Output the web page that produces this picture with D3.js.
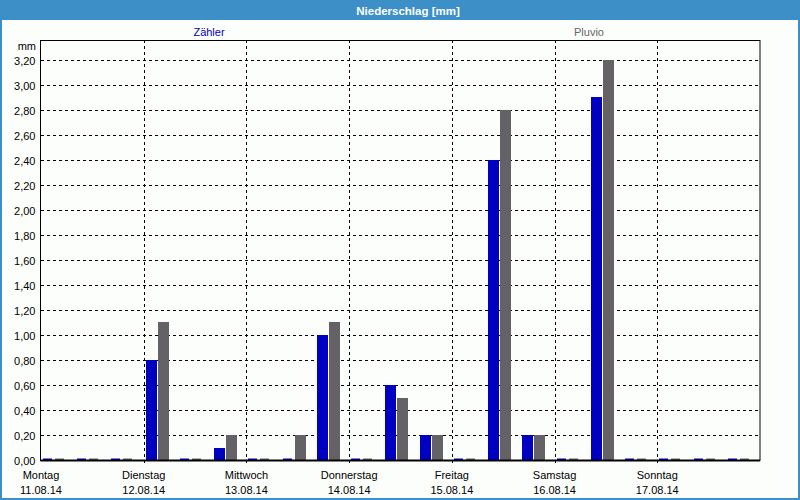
<!DOCTYPE html>
<html>
<head>
<meta charset="utf-8">
<script src="https://cdn.jsdelivr.net/npm/d3@7"></script>
<style>
  html, body { margin: 0; padding: 0; background: #fcfefc; }
  svg { display: block; }
  text { font-family: "Liberation Sans", Arial, sans-serif; }
</style>
</head>
<body>
<svg id="chart" width="800" height="500"></svg>
<script>
// ---- data ----
const title = "Niederschlag [mm]";
const seriesNames = ["Zähler", "Pluvio"];
const dayNames = ["Montag", "Dienstag", "Mittwoch", "Donnerstag", "Freitag", "Samstag", "Sonntag"];
const dayDates = ["11.08.14", "12.08.14", "13.08.14", "14.08.14", "15.08.14", "16.08.14", "17.08.14"];
// three 8-hour intervals per day, 21 intervals total
const zaehler = [0, 0, 0,  0.8, 0, 0.1,  0, 0, 1.0,  0, 0.6, 0.2,  0, 2.4, 0.2,  0, 2.9, 0,  0, 0, 0];
const pluvio  = [0, 0, 0,  1.1, 0, 0.2,  0, 0.2, 1.1,  0, 0.5, 0.2,  0, 2.8, 0.2,  0, 3.2, 0,  0, 0, 0];
const yTicks = [0, 0.2, 0.4, 0.6, 0.8, 1.0, 1.2, 1.4, 1.6, 1.8, 2.0, 2.2, 2.4, 2.6, 2.8, 3.0, 3.2];
const yMax = 3.36;
const yUnit = "mm";

// ---- layout ----
const W = 800, H = 500;
const plotL = 41, plotR = 760, plotT = 40, plotB = 460;
const colors = ["#0000c0", "#646266"];
const borderBlue = "#3c8fc7";

const svg = d3.select("#chart");

// background + border
svg.append("rect").attr("x", 0).attr("y", 0).attr("width", W).attr("height", H).attr("fill", "#fcfefc");
svg.append("rect").attr("x", 1).attr("y", 1).attr("width", W - 2).attr("height", H - 2)
  .attr("fill", "none").attr("stroke", borderBlue).attr("stroke-width", 2);
svg.append("rect").attr("x", 0).attr("y", 0).attr("width", W).attr("height", 20).attr("fill", borderBlue);
svg.append("text").attr("x", 408).attr("y", 14.5).attr("text-anchor", "middle")
  .attr("fill", "#fff").attr("font-weight", "bold").attr("font-size", "11.5px").text(title);

// legend
svg.append("text").attr("x", 209).attr("y", 36).attr("text-anchor", "middle")
  .attr("fill", colors[0]).attr("font-size", "11px").text(seriesNames[0]);
svg.append("text").attr("x", 589).attr("y", 36).attr("text-anchor", "middle")
  .attr("fill", "#666666").attr("font-size", "11px").text(seriesNames[1]);

// scales
const slots = d3.range(zaehler.length);
const x = d3.scaleBand().domain(slots).range([plotL, plotR]).paddingInner(0).paddingOuter(0);
const xDay = d3.scaleLinear().domain([0, dayNames.length]).range([plotL, plotR]);
const y = d3.scaleLinear().domain([0, yMax]).range([plotB, plotT]);

// grid
const g = svg.append("g");
g.selectAll("line.hg").data(yTicks.filter(d => d > 0)).join("line")
  .attr("x1", plotL).attr("x2", plotR)
  .attr("y1", d => Math.round(y(d)) + 0.5).attr("y2", d => Math.round(y(d)) + 0.5)
  .attr("stroke", "#000").attr("stroke-dasharray", "3,3");
g.selectAll("line.vg").data(d3.range(1, dayNames.length)).join("line")
  .attr("x1", d => Math.round(xDay(d)) + 0.5).attr("x2", d => Math.round(xDay(d)) + 0.5)
  .attr("y1", plotT).attr("y2", plotB + 4)
  .attr("stroke", "#000").attr("stroke-dasharray", "3,3");

// bars
const barW = 11;
const series = [zaehler, pluvio];
series.forEach((vals, si) => {
  svg.append("g").selectAll("rect").data(vals).join("rect")
    .attr("x", (d, i) => Math.round(x(i)) + 2 + si * (barW + 1) + (d === 0 ? 0 : 0))
    .attr("width", d => d === 0 ? barW - 2 : barW)
    .attr("y", d => Math.min(Math.round(y(d)), plotB - 1.5))
    .attr("height", d => Math.max(plotB - Math.round(y(d)), 1.5))
    .attr("fill", colors[si]);
});

// frame
svg.append("rect").attr("x", plotL - 0.5).attr("y", plotT + 0.5)
  .attr("width", plotR - plotL + 0.5).attr("height", plotB - plotT)
  .attr("fill", "none").attr("stroke", "#000").attr("stroke-width", 1);
svg.append("line").attr("x1", plotL - 0.5).attr("x2", plotR).attr("y1", plotB + 0.5).attr("y2", plotB + 0.5)
  .attr("stroke", "#000").attr("stroke-width", 2);

// y axis labels
const yAxis = d3.axisLeft(y).tickValues(yTicks).tickSize(0).tickPadding(5)
  .tickFormat(d => d3.format(".2f")(d).replace(".", ","));
const ya = svg.append("g").attr("transform", `translate(${plotL - 0.5},0.5)`).call(yAxis);
ya.select(".domain").remove();
ya.selectAll("text").attr("font-size", "11px").attr("fill", "#000")
  .attr("font-family", "'Liberation Sans', Arial, sans-serif");
svg.append("text").attr("x", 36).attr("y", 50).attr("text-anchor", "end")
  .attr("font-size", "11px").text(yUnit);

// x labels
const xl = svg.append("g");
xl.selectAll("text.d").data(dayNames).join("text")
  .attr("x", (d, i) => xDay(i)).attr("y", 479).attr("text-anchor", "middle")
  .attr("font-size", "11px").text(d => d);
xl.selectAll("text.t").data(dayDates).join("text")
  .attr("x", (d, i) => xDay(i)).attr("y", 494).attr("text-anchor", "middle")
  .attr("font-size", "11px").text(d => d);
</script>
</body>
</html>
